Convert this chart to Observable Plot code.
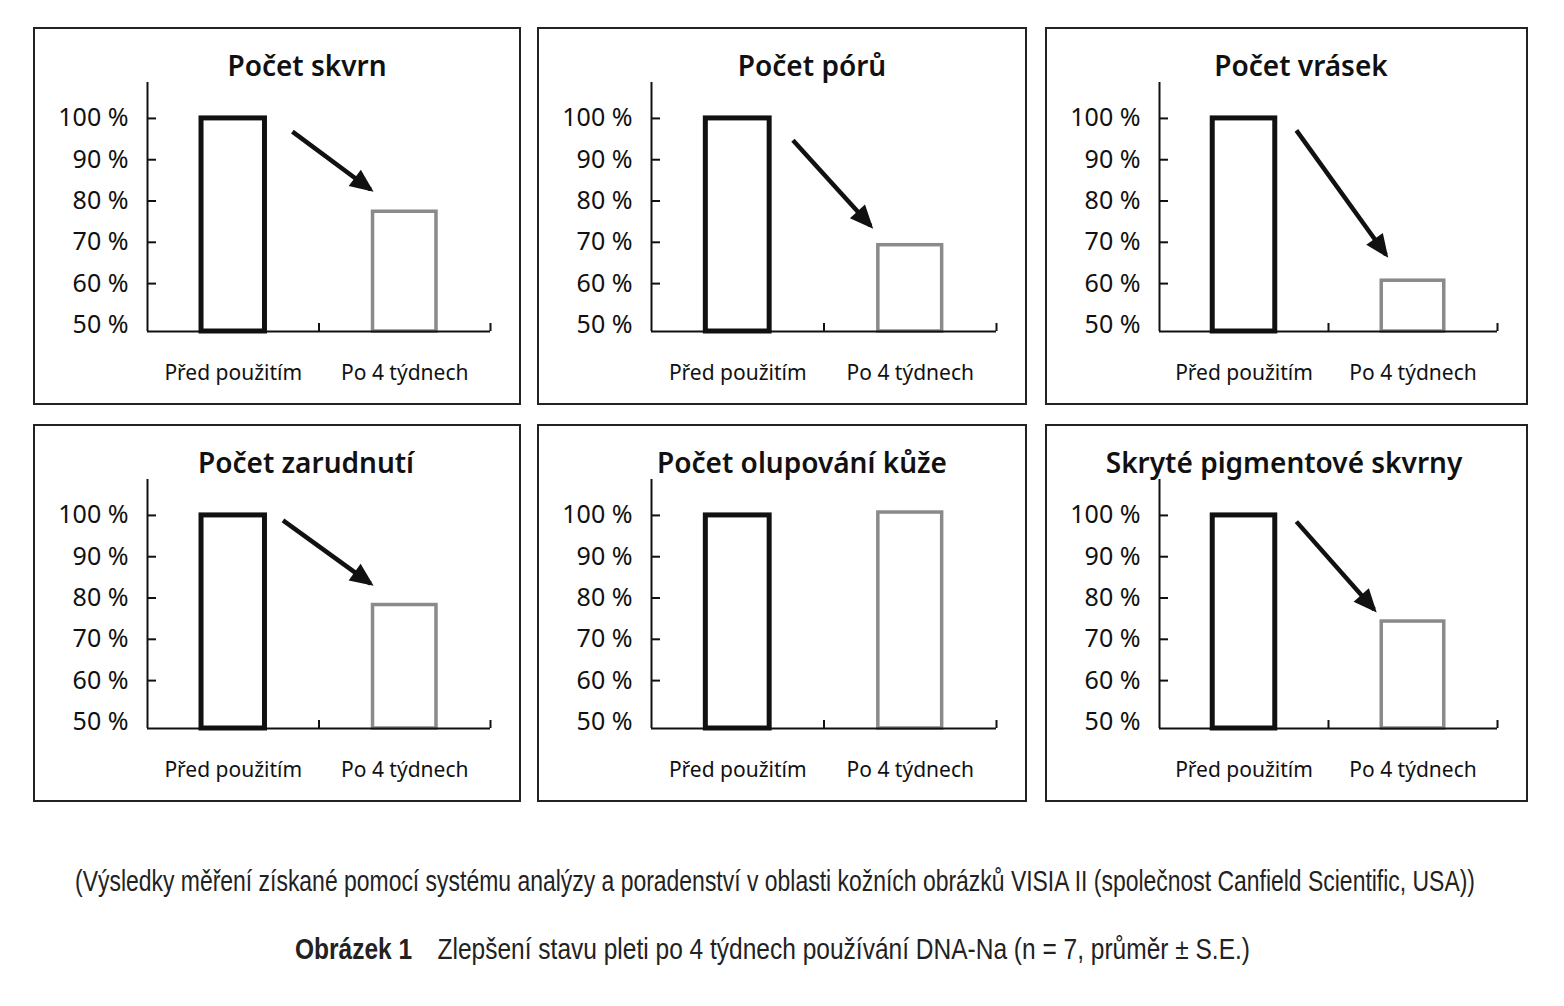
<!DOCTYPE html>
<html>
<head>
<meta charset="utf-8">
<script src="https://cdn.jsdelivr.net/npm/d3@7"></script>
<script src="https://cdn.jsdelivr.net/npm/@observablehq/plot@0.6"></script>
<style>
  html, body { margin: 0; padding: 0; background: #fff; }
  body { width: 1564px; height: 1006px; position: relative; overflow: hidden; font-family: "Noto Sans", "Open Sans", sans-serif; color: #111; }
  .box { position: absolute; box-sizing: border-box; border: 2px solid #222; background: #fff; }
  .box svg { position: absolute; left: 0; top: 0; overflow: visible; }
  .title { position: absolute; white-space: nowrap; font-size: 28px; font-weight: 600; transform: translate(-50%, -50%); line-height: 1; }
  .cap { position: absolute; white-space: nowrap; font-family: "Liberation Sans Narrow", "Arial Narrow", "Liberation Sans", sans-serif; font-size: 29px; color: #222; transform-origin: left center; line-height: 1; }
</style>
</head>
<body>
<script>
// ---- data ----
const categories = ["Před použitím", "Po 4 týdnech"];
const titles = ["Počet skvrn", "Počet pórů", "Počet vrásek", "Počet zarudnutí", "Počet olupování kůže", "Skryté pigmentové skvrny"];
const beforeValues = [100, 100, 100, 100, 100, 100];
const afterValues = [77.4, 69.3, 60.7, 78.3, 100.7, 74.3];
// arrows (x in category-band units: 0..2, y in %)
const arrowStartX = [0.845, 0.82, 0.81, 0.79, null, 0.81];
const arrowStartY = [96.8, 94.7, 97.1, 98.8, null, 98.5];
const arrowEndX = [1.30, 1.27, 1.34, 1.30, null, 1.27];
const arrowEndY = [82.8, 74.0, 67.0, 83.5, null, 77.2];
const yTicks = [50, 60, 70, 80, 90, 100];
const yTickMarks = [60, 70, 80, 90, 100];
const captionLine = "(Výsledky měření získané pomocí systému analýzy a poradenství v oblasti kožních obrázků VISIA II (společnost Canfield Scientific, USA))";
const figureLabel = "Obrázek 1";
const figureText = "Zlepšení stavu pleti po 4 týdnech používání DNA-Na (n = 7, průměr ± S.E.)";

// ---- layout ----
const boxLeft = [33, 537, 1045];
const boxWidth = [488, 490, 483];
const boxTop = [27, 424];
const boxHeight = 378;
const titleCenterX = [274, 275, 256, 273, 265, 239];
const titleCenterY = 38;
const yDomain = [48.4, 108.7];
const barHalf = 0.185;

function makePanel(i) {
  const row = Math.floor(i / 3), col = i % 3;
  const box = document.createElement("div");
  box.className = "box";
  box.style.left = boxLeft[col] + "px";
  box.style.top = boxTop[row] + "px";
  box.style.width = boxWidth[col] + "px";
  box.style.height = boxHeight + "px";
  document.body.appendChild(box);

  const t = document.createElement("div");
  t.className = "title";
  t.textContent = titles[i];
  t.style.left = (titleCenterX[i] - 2) + "px";
  t.style.top = (titleCenterY - 2) + "px";
  box.appendChild(t);

  const before = [{k: 0, value: beforeValues[i]}];
  const after = [{k: 1, value: afterValues[i]}];
  const marks = [
    Plot.rect(before, {x1: d => d.k + 0.5 - barHalf, x2: d => d.k + 0.5 + barHalf, y1: yDomain[0], y2: "value", fill: "white", stroke: "#111", strokeWidth: 5}),
    Plot.rect(after, {x1: d => d.k + 0.5 - barHalf, x2: d => d.k + 0.5 + barHalf, y1: yDomain[0], y2: "value", fill: "white", stroke: "#8a8a8a", strokeWidth: 3.5}),
    Plot.ruleX([0], {stroke: "#111", strokeWidth: 2}),
    Plot.ruleY([yDomain[0]], {stroke: "#111", strokeWidth: 2}),
    Plot.axisY({ticks: yTickMarks, tickSize: -9, tickFormat: () => "", label: null, stroke: "#111", strokeWidth: 2}),
    Plot.axisY({ticks: yTicks, tickSize: 0, tickPadding: 19, tickFormat: d => d + " %", label: null, fontSize: 25, color: "#111"}),
    Plot.axisX({ticks: [1, 2], tickSize: -8, tickFormat: () => "", label: null, stroke: "#111", strokeWidth: 2}),
    Plot.axisX({ticks: [0.5, 1.5], tickSize: 0, tickPadding: 34, tickFormat: d => categories[Math.floor(d)], label: null, fontSize: 21, color: "#111"})
  ];
  if (arrowStartX[i] != null) {
    marks.push(Plot.link([{x1: arrowStartX[i], y1: arrowStartY[i], x2: arrowEndX[i], y2: arrowEndY[i]}],
      {x1: "x1", y1: "y1", x2: "x2", y2: "y2", stroke: "#111", strokeWidth: 4.5, markerEnd: "arrow"}));
  }
  const svg = Plot.plot({
    width: boxWidth[col] - 4,
    height: boxHeight - 4,
    marginLeft: 112,
    marginRight: 29,
    marginTop: 53,
    marginBottom: 72,
    style: {fontFamily: "'Noto Sans', 'Open Sans', sans-serif", background: "transparent", color: "#111", overflow: "visible"},
    x: {domain: [0, 2], axis: null},
    y: {domain: yDomain, axis: null},
    marks
  });
  // filled arrowhead
  d3.select(svg).selectAll("marker")
    .attr("overflow", "visible")
    .selectAll("path")
    .attr("d", "M-6.5,-3.4L1.3,0L-6.5,3.4Z")
    .attr("fill", "#111")
    .attr("stroke", "none");
  box.appendChild(svg);
}

for (let i = 0; i < 6; i++) makePanel(i);

// ---- captions ----
function fitLine(el, left, width, centerY) {
  document.body.appendChild(el);
  el.style.left = left + "px";
  el.style.top = (centerY - 15) + "px";
  const w = el.getBoundingClientRect().width;
  el.style.transform = `scaleX(${width / w})`;
}
const c1 = document.createElement("div");
c1.className = "cap";
c1.textContent = captionLine;
fitLine(c1, 75, 1400, 882);

const c2 = document.createElement("div");
c2.className = "cap";
const b = document.createElement("span");
b.style.fontWeight = "bold";
b.textContent = figureLabel;
const s = document.createElement("span");
s.style.marginLeft = "30px";
s.textContent = figureText;
c2.appendChild(b);
c2.appendChild(s);
fitLine(c2, 295, 955, 950);
</script>
</body>
</html>
